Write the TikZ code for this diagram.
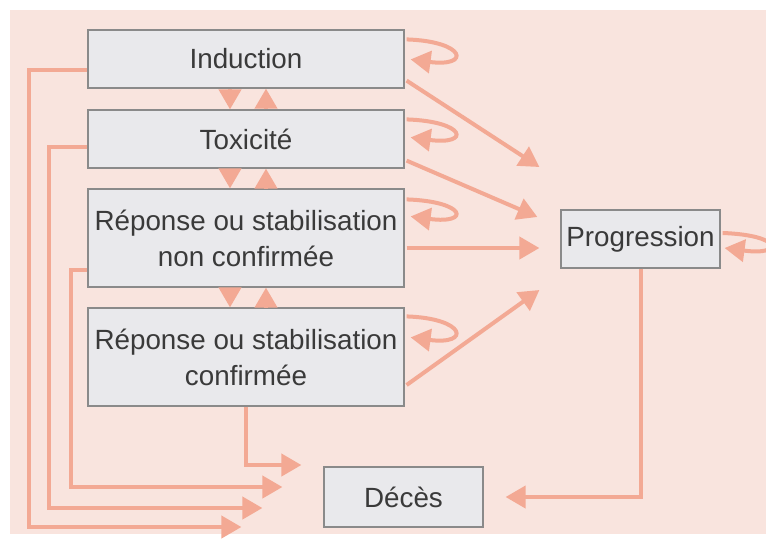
\documentclass[tikz,border=0pt]{standalone}
\usepackage{fontspec}
\setmainfont{Liberation Sans}
\usetikzlibrary{arrows.meta}
\definecolor{fondrose}{HTML}{F9E4DE}
\definecolor{gris}{HTML}{E9E9EC}
\definecolor{bord}{HTML}{8A8A8A}
\definecolor{texte}{HTML}{3A3A3A}
\definecolor{rose}{HTML}{F3A994}
\tikzset{etat/.style = {draw = bord, line width = 0.6pt, fill = gris, text = texte, align = center,
  font = \fontsize{13.9}{18}\selectfont, inner sep = 0pt}}
\tikzset{fleche/.style = {draw = rose, line width = 2pt, -{Triangle[length = 10pt, width = 11pt]}}}

\begin{document}
\begin{tikzpicture}[x = 0.5pt, y = -0.5pt]
\useasboundingbox (0,0) rectangle (766,538);
\fill[fondrose] (10,10) rectangle (766,534);
\node[etat, minimum width = 158pt, minimum height = 29pt] (ind) at (246,59) {Induction};
\node[etat, minimum width = 158pt, minimum height = 29pt] (tox) at (246,139) {Toxicité};
\node[etat, minimum width = 158pt, minimum height = 49pt] (rnc) at (246,238) {Réponse ou stabilisation\\non confirmée};
\node[etat, minimum width = 158pt, minimum height = 49pt] (rc) at (246,357) {Réponse ou stabilisation\\confirmée};
\node[etat, minimum width = 79.5pt, minimum height = 29pt] (prog) at (640.5,239) {Progression};
\node[etat, minimum width = 79.5pt, minimum height = 30pt] (dec) at (403.5,497) {Décès};
% passages entre etats
\draw[fleche] ([xshift = -8pt]ind.south) -- ([xshift = -8pt]tox.north);
\draw[fleche] ([xshift = 10pt]tox.north) -- ([xshift = 10pt]ind.south);
\draw[fleche] ([xshift = -8pt]tox.south) -- ([xshift = -8pt]rnc.north);
\draw[fleche] ([xshift = 10pt]rnc.north) -- ([xshift = 10pt]tox.south);
\draw[fleche] ([xshift = -8pt]rnc.south) -- ([xshift = -8pt]rc.north);
\draw[fleche] ([xshift = 10pt]rc.north) -- ([xshift = 10pt]rnc.south);
% boucles
\draw[fleche] ([xshift = 1pt, yshift = -5pt]ind.north east) .. controls +(30pt,-1pt) and +(30pt,-4pt) .. ([xshift = 3pt, yshift = -15pt]ind.north east);
\draw[fleche] ([xshift = 1pt, yshift = -5pt]tox.north east) .. controls +(30pt,-1pt) and +(30pt,-4pt) .. ([xshift = 3pt, yshift = -14pt]tox.north east);
\draw[fleche] ([xshift = 1pt, yshift = -5.5pt]rnc.north east) .. controls +(30pt,-1pt) and +(30pt,-4pt) .. ([xshift = 3pt, yshift = -14pt]rnc.north east);
\draw[fleche] ([xshift = 1pt, yshift = -4.5pt]rc.north east) .. controls +(30pt,-1pt) and +(30pt,-4pt) .. ([xshift = 3pt, yshift = -15pt]rc.north east);
\draw[fleche] ([xshift = 1pt, yshift = 3pt]prog.east) .. controls +(30pt,-1pt) and +(30pt,-4pt) .. ([xshift = 2pt, yshift = -4.5pt]prog.east);
% vers progression
\draw[fleche] ([xshift = 1pt, yshift = 4pt]ind.south east) -- ([xshift = -10.5pt, yshift = 36pt]prog.west);
\draw[fleche] ([xshift = 1pt, yshift = 4pt]tox.south east) -- ([xshift = -11.5pt, yshift = 11pt]prog.west);
\draw[fleche] ([xshift = 1pt, yshift = -5pt]rnc.east) -- ([xshift = -10.5pt, yshift = -4.5pt]prog.west);
\draw[fleche] ([xshift = 1pt, yshift = -14pt]rc.east) -- ([xshift = -10.5pt, yshift = -25.5pt]prog.west);
% vers deces
\draw[fleche] ([yshift = -5.5pt]ind.west) -- ++(-29pt,0) |- ([xshift = -41pt, yshift = -15pt]dec.west);
\draw[fleche] ([yshift = -4pt]tox.west) -- ++(-19pt,0) |- ([xshift = -30.5pt, yshift = -5.5pt]dec.west);
\draw[fleche] ([yshift = -16pt]rnc.west) -- ++(-8pt,0) |- ([xshift = -20.5pt, yshift = 5pt]dec.west);
\draw[fleche] (rc.south) |- ([xshift = -11pt, yshift = 16pt]dec.west);
\draw[fleche] (prog.south) |- ([xshift = 11pt]dec.east);
\end{tikzpicture}
\end{document}
